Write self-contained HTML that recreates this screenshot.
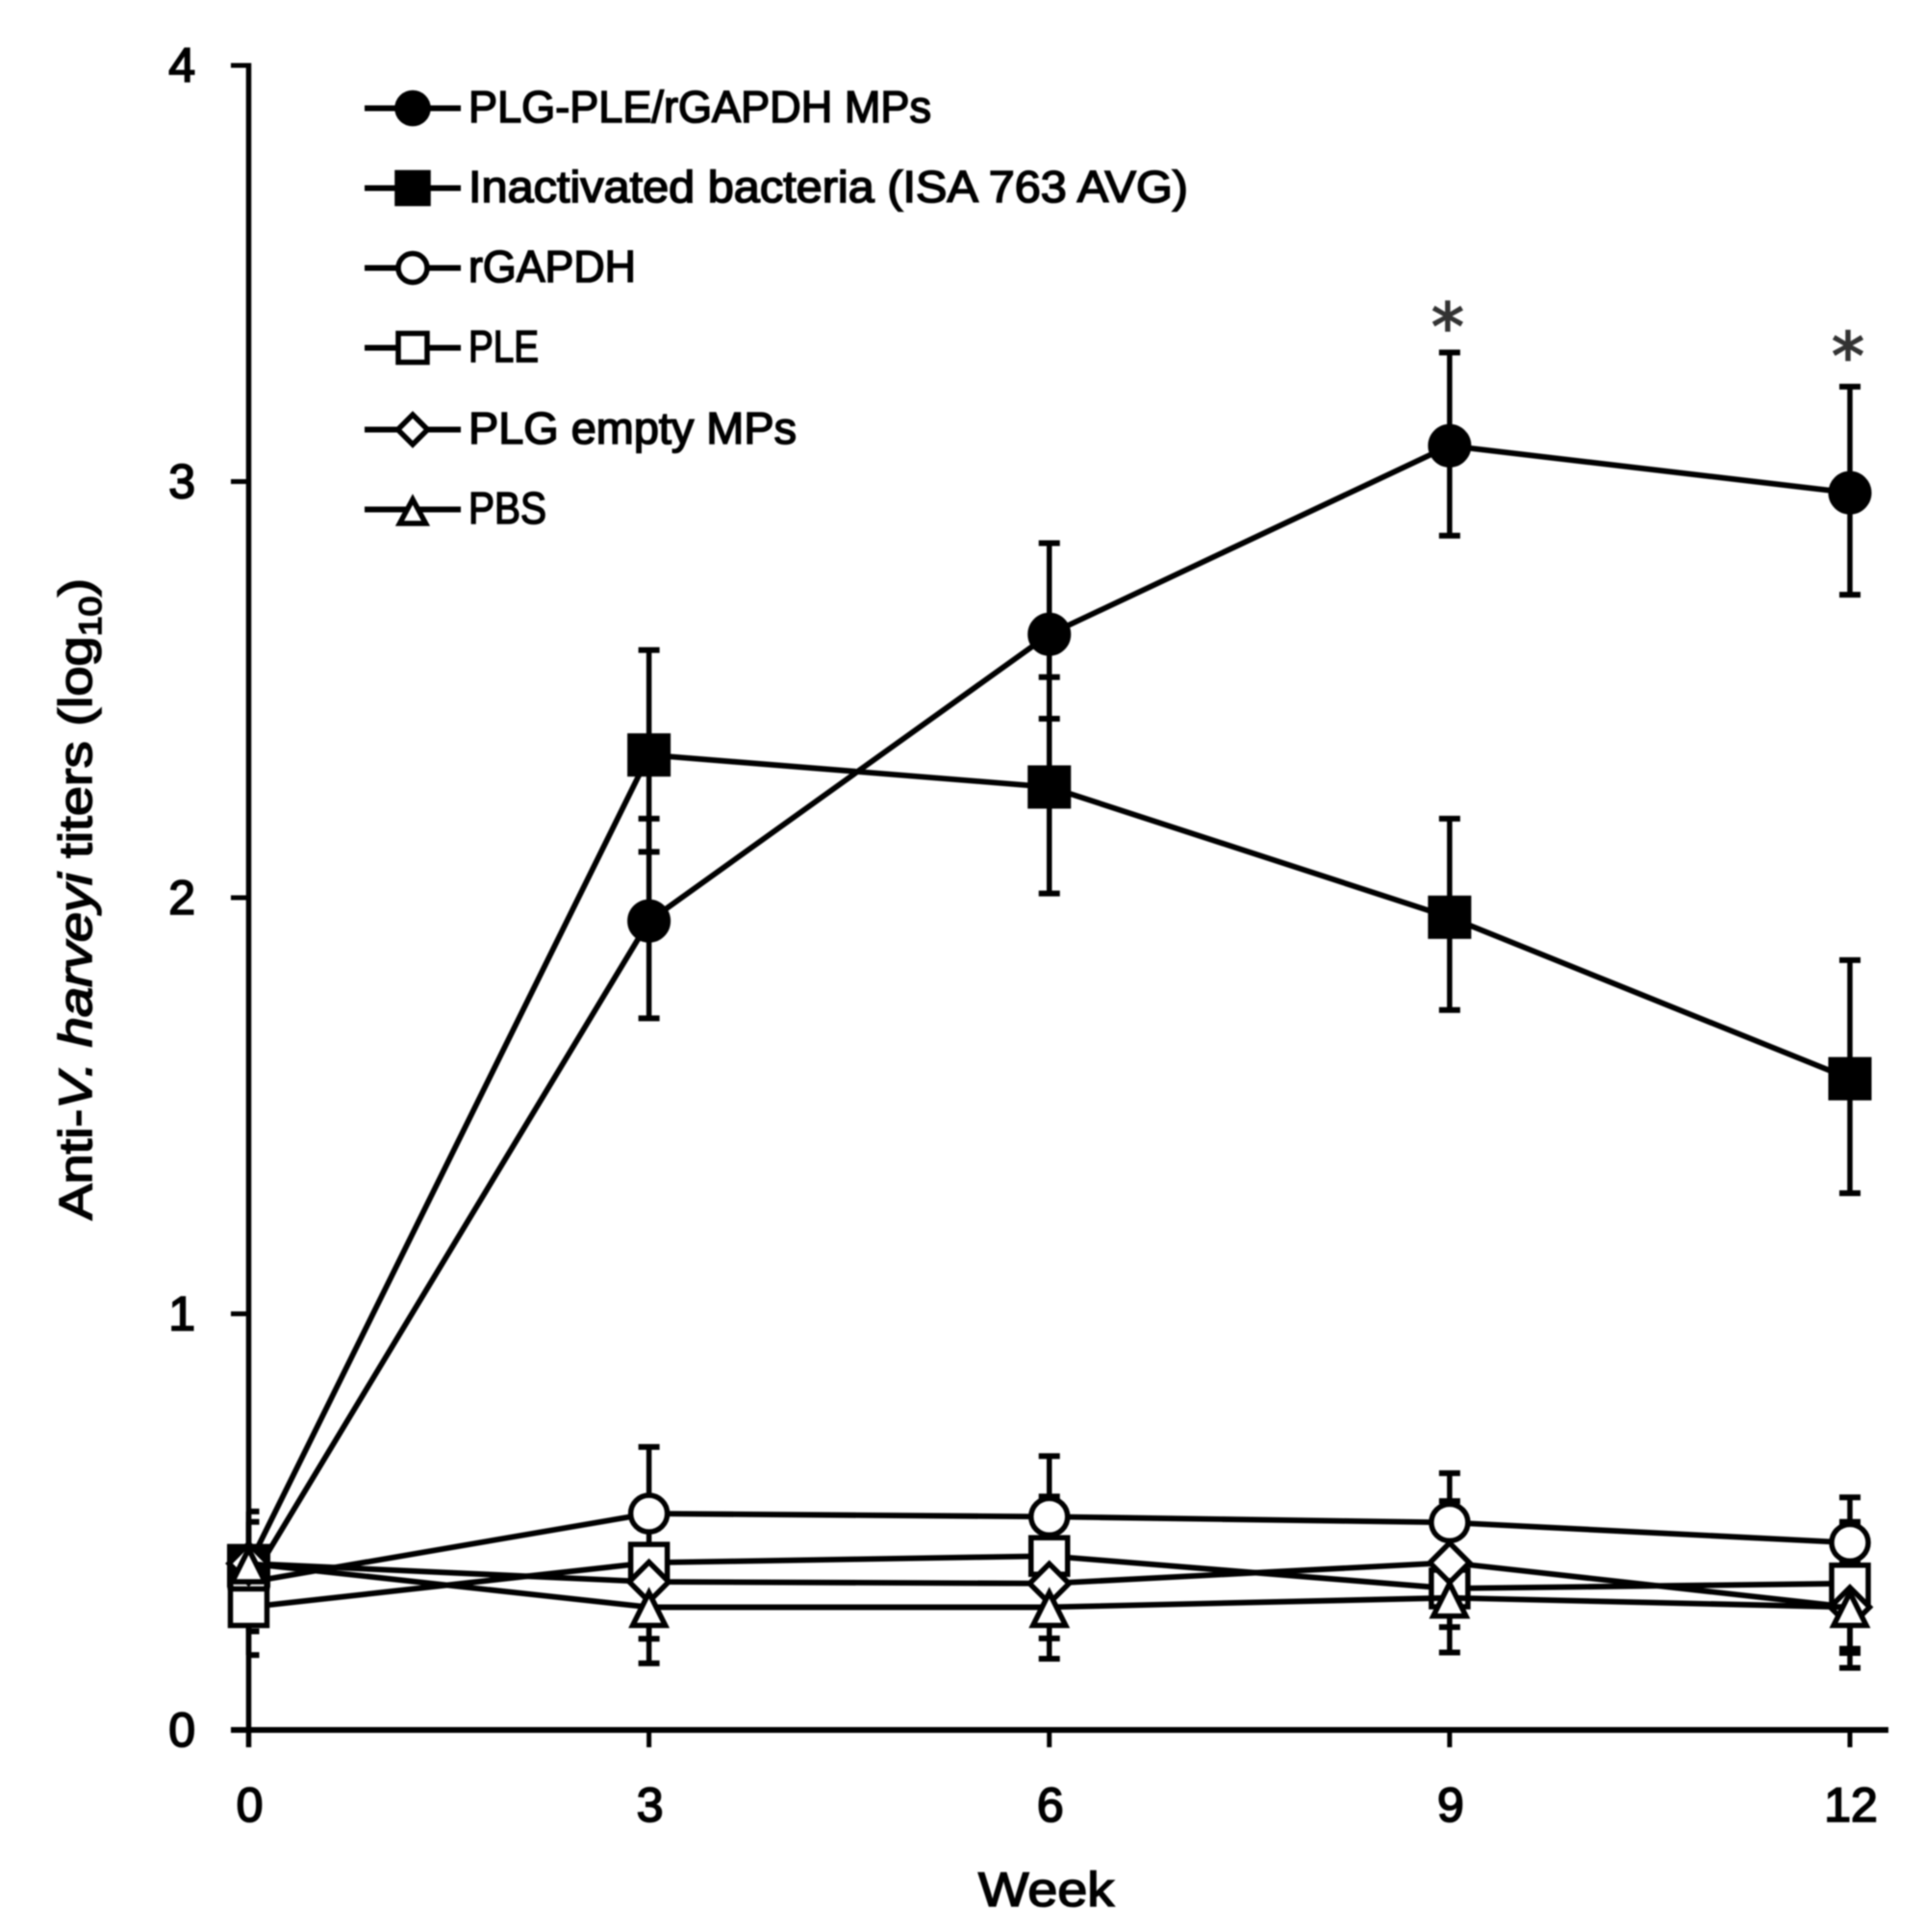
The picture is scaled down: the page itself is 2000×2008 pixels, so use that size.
<!DOCTYPE html>
<html lang="en">
<head>
<meta charset="utf-8">
<title>Anti-V. harveyi titers</title>
<style>
html,body{margin:0;padding:0;background:#fff;}
#chart{display:block;width:2000px;height:2008px;filter:blur(0.8px);}
.lbl{font-family:"Liberation Sans",sans-serif;fill:#000;stroke:#000;stroke-width:1.6px;}
.leg{font-size:46px;}
.tick{font-size:50px;stroke-width:1.8px;}
</style>
</head>
<body>
<svg id="chart" xmlns="http://www.w3.org/2000/svg" width="2000" height="2008" viewBox="0 0 2000 2008">
  <rect x="0" y="0" width="2000" height="2008" fill="#fff"/>
  <g id="axes"></g>
  <g id="errors"></g>
  <g id="series"></g>
  <g id="stars"></g>

  <g fill="#fff" stroke="#000" stroke-width="5.5">
    <g>
      <line x1="379" y1="112.5" x2="479" y2="112.5" stroke-width="6"/>
      <circle cx="429" cy="112.5" r="16" fill="#000"/>
      <text class="lbl leg" x="487" y="127" textLength="481" lengthAdjust="spacingAndGlyphs">PLG-PLE/rGAPDH MPs</text>
    </g>
    <g>
      <line x1="379" y1="195.5" x2="479" y2="195.5" stroke-width="6"/>
      <rect x="413" y="179.5" width="32" height="32" fill="#000"/>
      <text class="lbl leg" x="487" y="210" textLength="748" lengthAdjust="spacingAndGlyphs">Inactivated bacteria (ISA 763 AVG)</text>
    </g>
    <g>
      <line x1="379" y1="278.5" x2="479" y2="278.5" stroke-width="6"/>
      <circle cx="429" cy="278.5" r="15"/>
      <text class="lbl leg" x="487" y="293" textLength="174" lengthAdjust="spacingAndGlyphs">rGAPDH</text>
    </g>
    <g>
      <line x1="379" y1="361.5" x2="479" y2="361.5" stroke-width="6"/>
      <rect x="414" y="346.5" width="30" height="30"/>
      <text class="lbl leg" x="487" y="376" textLength="73" lengthAdjust="spacingAndGlyphs">PLE</text>
    </g>
    <g>
      <line x1="379" y1="446.5" x2="479" y2="446.5" stroke-width="6"/>
      <polygon points="429,431 444.5,446.5 429,462 413.5,446.5"/>
      <text class="lbl leg" x="487" y="461" textLength="341" lengthAdjust="spacingAndGlyphs">PLG empty MPs</text>
    </g>
    <g>
      <line x1="379" y1="529.5" x2="479" y2="529.5" stroke-width="6"/>
      <polygon points="429,519 442.5,544 415.5,544"/>
      <text class="lbl leg" x="487" y="544" textLength="81" lengthAdjust="spacingAndGlyphs">PBS</text>
    </g>
  </g>

  <text class="lbl" x="1017" y="1981" font-size="50" textLength="141" lengthAdjust="spacingAndGlyphs">Week</text>
  <text class="lbl" transform="translate(95,1268) rotate(-90)" x="0" y="0" font-size="48" textLength="667" lengthAdjust="spacingAndGlyphs">Anti-<tspan font-style="italic">V. harveyi</tspan> titers (log<tspan font-size="32" dy="10">10</tspan><tspan dy="-10">)</tspan></text>
</svg>

<script>
// ---- chart data ----
const weeks = [0, 3, 6, 9, 12];
const yTicks = [0, 1, 2, 3, 4];
const xTicks = [0, 3, 6, 9, 12];

const plgPleValues = [0.35, 1.944, 2.633, 3.086, 2.973];
const plgPleHigh   = [0.525, 2.19, 2.852, 3.31, 3.228];
const plgPleLow    = [0.30, 1.71, 2.43, 2.87, 2.728];

const inactivatedValues = [0.395, 2.343, 2.266, 1.953, 1.565];
const inactivatedHigh   = [0.50, 2.595, 2.53, 2.19, 1.85];
const inactivatedLow    = [0.32, 2.11, 2.01, 1.73, 1.29];

const rgapdhValues = [0.355, 0.52, 0.5125, 0.4985, 0.45];
const rgapdhHigh   = [0.43, 0.68, 0.658, 0.617, 0.559];
const rgapdhLow    = [0.237, 0.38, 0.40, 0.40, 0.36];

const pleValues = [0.295, 0.402, 0.418, 0.34, 0.352];
const pleHigh   = [0.40, 0.44, 0.561, 0.40, 0.50];
const pleLow    = [0.18, 0.219, 0.22, 0.247, 0.195];

const plgEmptyValues = [0.40, 0.356, 0.352, 0.402, 0.295];
const plgEmptyHigh   = [0.42, 0.44, 0.43, 0.55, 0.40];
const plgEmptyLow    = [0.38, 0.27, 0.27, 0.30, 0.185];

const pbsValues = [0.40, 0.295, 0.295, 0.3175, 0.295];
const pbsHigh   = [0.42, 0.40, 0.40, 0.40, 0.38];
const pbsLow    = [0.36, 0.16, 0.171, 0.186, 0.149];

const seriesNames = ['plg-ple', 'inactivated-bacteria', 'rgapdh', 'ple', 'plg-empty', 'pbs'];
const seriesValues = [plgPleValues, inactivatedValues, rgapdhValues, pleValues, plgEmptyValues, pbsValues];
const seriesHigh = [plgPleHigh, inactivatedHigh, rgapdhHigh, pleHigh, plgEmptyHigh, pbsHigh];
const seriesLow = [plgPleLow, inactivatedLow, rgapdhLow, pleLow, plgEmptyLow, pbsLow];
const seriesShapes = ['disc', 'block', 'circle', 'square', 'diamond', 'triangle'];

const starWeeks = [9, 12];
const starValues = [3.43, 3.36];

// ---- axis functions ----
function xScale(w) { return 258.5 + w * (1923 - 258.5) / 12; }
function yScale(v) { return 1798 - v * (1798 - 68) / 4; }

const NS = 'http://www.w3.org/2000/svg';
function mk(parent, tag, attrs) {
  const el = document.createElementNS(NS, tag);
  for (const k in attrs) el.setAttribute(k, attrs[k]);
  parent.appendChild(el);
  return el;
}

// ---- axes ----
const axes = document.getElementById('axes');
const yAxis = mk(axes, 'line', {x1: xScale(0), y1: yScale(4) - 2.5, x2: xScale(0), y2: 1816, stroke: '#000', 'stroke-width': 5.5});


const xAxis = mk(axes, 'line', {x1: 240, y1: yScale(0), x2: 1963, y2: yScale(0), stroke: '#000', 'stroke-width': 6});



yTicks.forEach(function (t) {
  const tk = mk(axes, 'line', {x1: 240, y1: yScale(t), x2: xScale(0), y2: yScale(t), stroke: '#000', 'stroke-width': 5});
  
  
  const lb = mk(axes, 'text', {x: 203, y: yScale(t) + 17, 'text-anchor': 'end', class: 'lbl tick'});
  
  
  lb.textContent = String(t);
});
xTicks.forEach(function (t) {
  const tk = mk(axes, 'line', {x1: xScale(t), y1: yScale(0), x2: xScale(t), y2: 1816, stroke: '#000', 'stroke-width': 5});
  
  
  const lb = mk(axes, 'text', {x: xScale(t) + 1, y: 1893, 'text-anchor': 'middle', class: 'lbl tick'});
  
  
  lb.textContent = String(t);
});

// ---- error bars (all beneath the markers) ----
const errors = document.getElementById('errors');
seriesNames.forEach(function (name, s) {
  weeks.forEach(function (w, i) {
    const x = xScale(w);
    const yHi = yScale(seriesHigh[s][i]);
    const yLo = yScale(seriesLow[s][i]);
    const capL = i === 0 ? x : x - 11;
    const g = mk(errors, 'g', {stroke: '#000', fill: 'none'});
    
    
    mk(g, 'line', {x1: x, y1: yHi, x2: x, y2: yLo, 'stroke-width': 5.5});
    mk(g, 'line', {x1: capL, y1: yHi, x2: x + 11, y2: yHi, 'stroke-width': 6});
    mk(g, 'line', {x1: capL, y1: yLo, x2: x + 11, y2: yLo, 'stroke-width': 6});
  });
});

// ---- lines and markers ----
function drawMarker(parent, shape, x, y) {
  const base = {stroke: '#000', 'stroke-width': 5.5, fill: '#fff'};
  if (shape === 'disc') {
    return mk(parent, 'circle', {cx: x, cy: y, r: 20, stroke: '#000', 'stroke-width': 5, fill: '#000'});
  }
  if (shape === 'block') {
    return mk(parent, 'rect', {x: x - 20, y: y - 20, width: 40, height: 40, stroke: '#000', 'stroke-width': 5, fill: '#000'});
  }
  if (shape === 'circle') {
    return mk(parent, 'circle', Object.assign({cx: x, cy: y, r: 19}, base));
  }
  if (shape === 'square') {
    return mk(parent, 'rect', Object.assign({x: x - 19, y: y - 19, width: 38, height: 38}, base));
  }
  if (shape === 'diamond') {
    return mk(parent, 'polygon', Object.assign({points: x + ',' + (y - 20.5) + ' ' + (x + 20.5) + ',' + y + ' ' + x + ',' + (y + 20.5) + ' ' + (x - 20.5) + ',' + y}, base));
  }
  return mk(parent, 'polygon', Object.assign({points: x + ',' + (y - 15) + ' ' + (x + 17) + ',' + (y + 19) + ' ' + (x - 17) + ',' + (y + 19)}, base));
}

const seriesGroup = document.getElementById('series');
seriesNames.forEach(function (name, s) {
  const g = mk(seriesGroup, 'g', {});
  
  
  const pts = weeks.map(function (w, i) { return xScale(w) + ',' + yScale(seriesValues[s][i]); }).join(' ');
  const line = mk(g, 'polyline', {points: pts, fill: 'none', stroke: '#000', 'stroke-width': 5.8, 'stroke-linejoin': 'round'});
  
  
  weeks.forEach(function (w, i) {
    const m = drawMarker(g, seriesShapes[s], xScale(w), yScale(seriesValues[s][i]));
    
    
  });
});

// ---- significance asterisks ----
const stars = document.getElementById('stars');
starWeeks.forEach(function (w, i) {
  const st = mk(stars, 'text', {
    x: xScale(w) - 2,
    y: yScale(starValues[i]) + 49,
    'text-anchor': 'middle',
    'font-family': '"DejaVu Sans",sans-serif',
    'font-size': 68,
    fill: '#333',
    stroke: '#333',
    'stroke-width': 1.6
  });
  
  
  st.textContent = '*';
});
</script>
</body>
</html>
